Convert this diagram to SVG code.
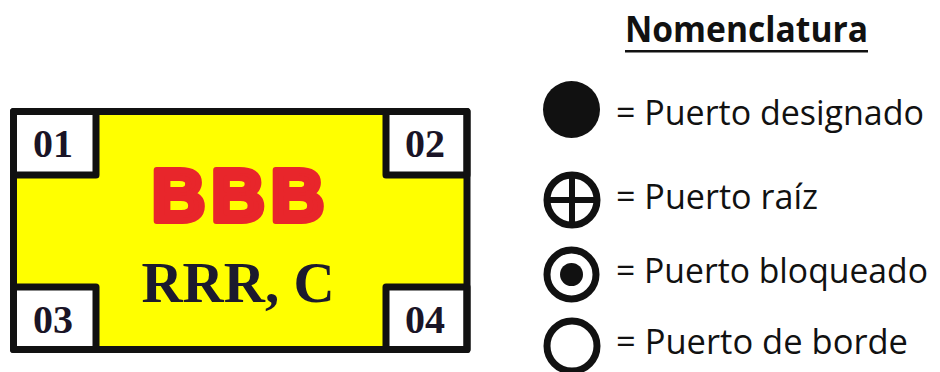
<svg xmlns="http://www.w3.org/2000/svg" width="940" height="372" viewBox="0 0 940 372">
<style>
.port{fill:#ffffff;stroke:#111111;stroke-width:7;stroke-linejoin:round}
.pnum{font-family:"Liberation Serif",serif;font-weight:bold;font-size:40px;fill:#1a1426;text-anchor:middle}
.leg{font-family:"Open Sans",sans-serif;font-size:34px;fill:#111111}
.sym{fill:none;stroke:#111111;stroke-width:7}
</style>
<rect width="940" height="372" fill="#ffffff"/>
<g id="bridge">
  <rect x="13.5" y="111.5" width="453.5" height="238" fill="#ffff00"/>
  <g id="port01"><rect class="port" x="13.5" y="111.5" width="82.5" height="63.5"/><text class="pnum" x="53" y="157">01</text></g>
  <g id="port02"><rect class="port" x="386" y="111.5" width="81" height="63.5"/><text class="pnum" x="425" y="157">02</text></g>
  <g id="port03"><rect class="port" x="13.5" y="287" width="82.5" height="62.5"/><text class="pnum" x="53" y="333">03</text></g>
  <g id="port04"><rect class="port" x="386" y="287" width="81" height="62.5"/><text class="pnum" x="425" y="333">04</text></g>
  <rect x="13.5" y="111.5" width="453.5" height="238" fill="none" stroke="#111111" stroke-width="7" stroke-linejoin="round"/>
  <text x="241" y="221" text-anchor="middle" font-family="'Liberation Sans',Arial,sans-serif" font-weight="bold" font-size="74" letter-spacing="6" fill="#e8262b" stroke="#e8262b" stroke-width="6" stroke-linejoin="round">BBB</text>
  <text x="238" y="302" text-anchor="middle" font-family="'Liberation Serif',serif" font-weight="bold" font-size="57" fill="#1c1a2e">RRR, C</text>
</g>
<g id="legend">
  <g id="title">
    <text x="625" y="42" font-family="'Open Sans',sans-serif" font-weight="bold" font-size="35" fill="#111111" textLength="243" lengthAdjust="spacingAndGlyphs">Nomenclatura</text>
    <rect x="625" y="50" width="243" height="2.5" fill="#111111"/>
  </g>
  <g id="designado">
    <circle cx="571.5" cy="109.5" r="28.5" fill="#111111"/>
    <text class="leg" x="616" y="125" textLength="308" lengthAdjust="spacingAndGlyphs">= Puerto designado</text>
  </g>
  <g id="raiz">
    <circle class="sym" cx="572" cy="200" r="25"/>
    <line x1="572" y1="175" x2="572" y2="225" stroke="#111111" stroke-width="6"/>
    <line x1="547" y1="200" x2="597" y2="200" stroke="#111111" stroke-width="6"/>
    <text class="leg" x="616" y="209" textLength="202" lengthAdjust="spacingAndGlyphs">= Puerto raíz</text>
  </g>
  <g id="bloqueado">
    <circle class="sym" cx="571.5" cy="274.5" r="24.5"/>
    <circle cx="571.5" cy="274.5" r="11.5" fill="#111111"/>
    <text class="leg" x="616" y="283" textLength="312" lengthAdjust="spacingAndGlyphs">= Puerto bloqueado</text>
  </g>
  <g id="borde">
    <circle class="sym" cx="572" cy="346" r="25"/>
    <text class="leg" x="616" y="354" textLength="292" lengthAdjust="spacingAndGlyphs">= Puerto de borde</text>
  </g>
</g>
</svg>
